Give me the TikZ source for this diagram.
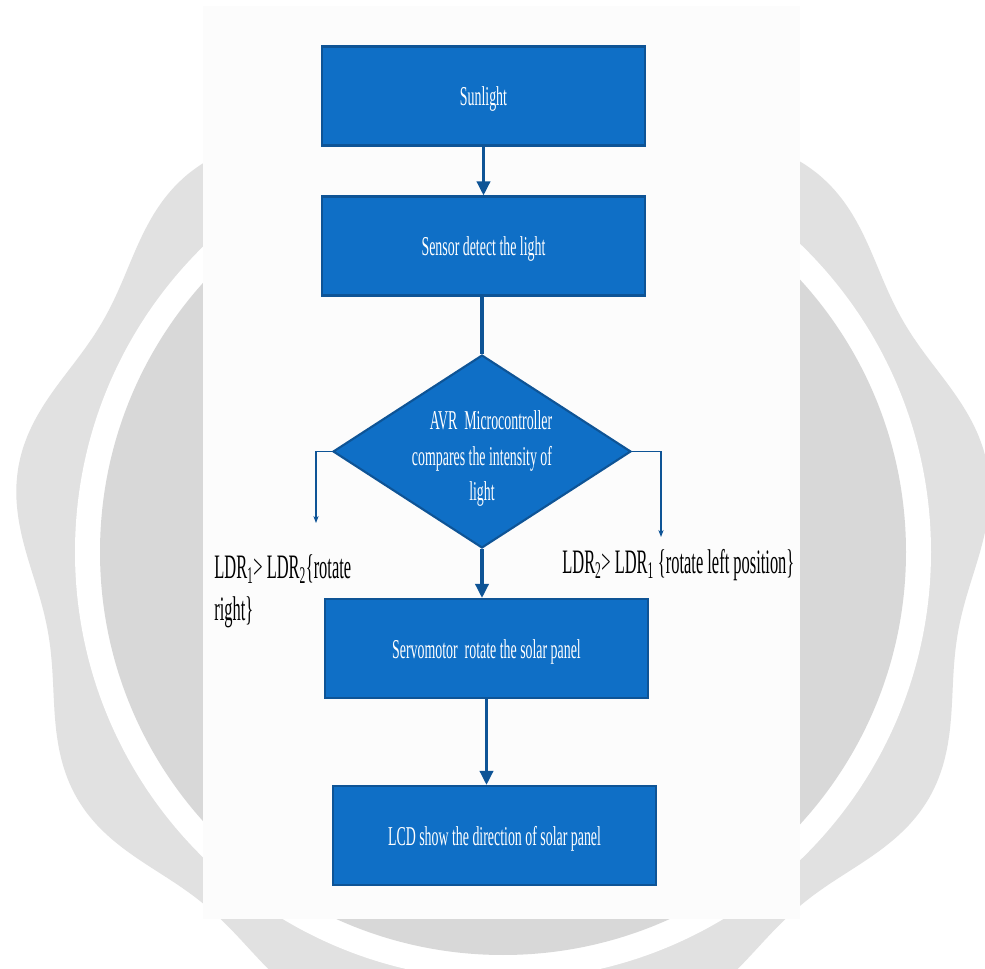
\documentclass[tikz,border=0pt]{standalone}
\usepackage{fontspec}
\setmainfont{Liberation Serif}
\usepackage{graphicx}
\usetikzlibrary{shapes.geometric, arrows.meta}
\definecolor{boxFill}{RGB}{15,111,198}
\definecolor{boxBorder}{RGB}{14,84,150}
\definecolor{sealOuter}{RGB}{225,225,225}
\definecolor{sealInner}{RGB}{216,216,216}
\definecolor{pageColor}{RGB}{252,252,252}
\tikzstyle{pixels} = [x = 0.02cm, y = -0.02cm]
\tikzstyle{boxStyle} = [draw=boxBorder, fill=boxFill, line width=1.2pt, inner sep=0pt, minimum width=6.46cm, minimum height=1.98cm, text=white, text height=13pt, text depth=2pt, font=\fontsize{15.5}{20}\selectfont]
\tikzstyle{decisionStyle} = [diamond, draw=boxBorder, fill=boxFill, line width=1.2pt, inner sep=0pt, minimum width=5.96cm, minimum height=3.86cm]
\tikzstyle{boxText} = [text=white, inner sep=0pt, font=\fontsize{15.5}{20}\selectfont]
\tikzstyle{labelText} = [text=black, inner sep=0pt, anchor=west, font=\fontsize{19.5}{24}\selectfont]
\tikzstyle{flowArrow} = [draw=boxBorder, line width=1.8pt, -{Triangle[length=8pt, width=7.5pt]}]
\tikzstyle{flowLine} = [draw=boxBorder, line width=1.9pt]
\tikzstyle{branchArrow} = [draw=boxBorder, line width=0.6pt, -{Stealth[length=4pt, width=3pt]}]
\newcommand{\squash}[2][0.51]{\scalebox{#1}[1]{#2}}
\newcommand{\ldr}[1]{LDR\textsubscript{#1}}
\newcommand{\sealRadius}[1]{(477 + 15*cos(9*(#1 - 270)))}

\begin{document}
\begin{tikzpicture}[pixels]
  \useasboundingbox (0,0) rectangle (985,969);
  \begin{scope}
    \clip (0,0) rectangle (985,969);
    \fill[white] (0,0) rectangle (985,969);
    \fill[sealOuter] plot[domain=0:358, samples=180, smooth cycle]
      ({503 + \sealRadius{\x}*cos(\x)}, {552 + \sealRadius{\x}*sin(\x)});
    \fill[white] (503,552) circle [radius=428];
    \fill[sealInner] (503,552) circle [radius=403];
    \fill[pageColor] (203,6) rectangle (800,919);
  \end{scope}

  \node[boxStyle] (sunlight) at (483.5,96) {\squash{Sunlight}};
  \node[boxStyle] (sensor) at (483.5,246) {\squash{Sensor detect the light}};
  \node[decisionStyle] (avr) at (482,451.5) {};
  \node[boxText] (avrText) at (482,458) {\squash{\begin{tabular}{@{}c@{}}\hspace*{1.3em}AVR\ \ Microcontroller\\ compares the intensity of\\ light\end{tabular}}};
  \node[boxStyle] (servo) at (486.5,648.5) {\squash{Servomotor\ \ rotate the solar panel}};
  \node[boxStyle] (lcd) at (494.5,835.5) {\squash{LCD show the direction of solar panel}};
  \node[labelText] (leftLabel) at (214,591) {\squash[0.48]{\begin{tabular}{@{}l@{}}\ldr{1}> \ldr{2}\{rotate\\ right\}\end{tabular}}};
  \node[labelText] (rightLabel) at (562,565) {\squash[0.48]{\ldr{2}> \ldr{1} \{rotate left position\}}};
  \coordinate (leftTip) at (316,523);
  \coordinate (rightTip) at (661,537);

  \draw[flowArrow] (sunlight) -- (sensor);
  \draw[flowLine] (sensor.south -| avr.north) -- (avr.north);
  \draw[flowArrow] (avr.south) -- (avr.south |- servo.north);
  \draw[flowArrow] (servo.south) -- (servo.south |- lcd.north);
  \draw[branchArrow] (avr.west) -| (leftTip);
  \draw[branchArrow] (avr.east) -| (rightTip);
\end{tikzpicture}
\end{document}
